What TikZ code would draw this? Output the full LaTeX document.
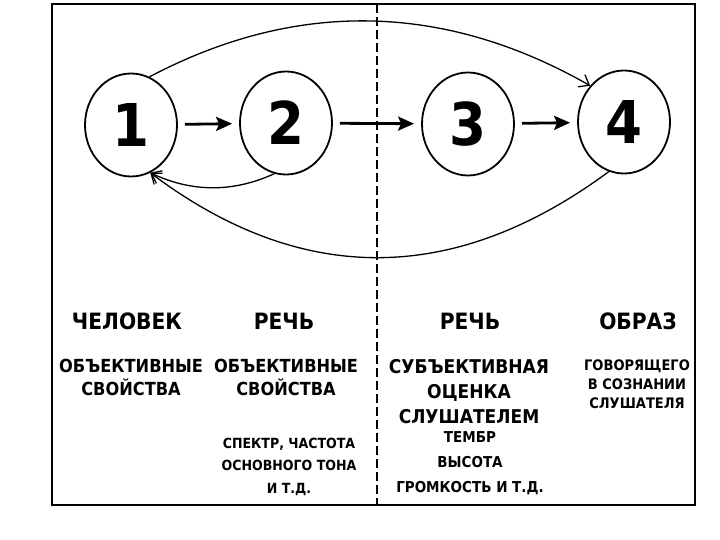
\documentclass[tikz,border=0pt]{standalone}
\usepackage{fontspec}
\setmainfont{DejaVu Sans Condensed}
\usetikzlibrary{arrows.meta,shapes.geometric}

\begin{document}
\begin{tikzpicture}[x=1pt,y=-1pt,
    stage/.style={draw,ellipse,line width=1.8pt,minimum width=92pt,minimum height=103pt,inner sep=0pt,font=\bfseries\fontsize{59}{59}\selectfont},
    flow/.style={-{Stealth[length=16pt,width=14pt,inset=3pt]},line width=2.8pt,shorten <=7pt,shorten >=7pt},
    feedback/.style={-{Straight Barb[length=9pt,width=14pt]},line width=1.3pt},
    title/.style={anchor=base,font=\bfseries\fontsize{22.5}{22.5}\selectfont},
    props/.style={anchor=base,align=center,font=\bfseries\fontsize{18}{23}\selectfont},
    notes/.style={anchor=base,align=center,font=\bfseries\fontsize{14}{22.5}\selectfont}]
        \useasboundingbox (0,0) rectangle (720,540);

        % frame and divider
        \draw[line width=2pt] (52,4) rectangle (695,505);
        \coordinate (dtop) at (377,4);
        \coordinate (dbot) at (377,505);
        \draw[line width=2.2pt,dash pattern=on 9pt off 4pt] (dtop) -- (dbot);

        \node[stage] (c1) at (131,125) {1};
        \node[stage] (c2) at (286,123) {2};
        \node[stage] (c3) at (468,124) {3};
        \node[stage] (c4) at (624,122) {4};

        \draw[flow] (c1) -- (c2);
        \draw[flow] (c2) -- (c3);
        \draw[flow] (c3) -- (c4);

        \draw[feedback] (c1.69) .. controls (297,-1) and (445,3) .. (c4.133);
        \draw[feedback] (c4.253) .. controls (454,286) and (301,286) .. (c1.292);
        \draw[feedback] (c2.257) .. controls (232,193) and (191,192) .. (c1.292);

        % labels, placed by the baseline of their last line
        \node[title] (t1) at (127,329) {ЧЕЛОВЕК};
        \node[title] (t2) at (284,329) {РЕЧЬ};
        \node[title] (t3) at (470,329) {РЕЧЬ};
        \node[title] (t4) at (638,329) {ОБРАЗ};

        \node[props] (p1) at (131,395) {ОБЪЕКТИВНЫЕ\\СВОЙСТВА};
        \node[props] (p2) at (286,395) {ОБЪЕКТИВНЫЕ\\СВОЙСТВА};
        \node[props,font=\bfseries\fontsize{19}{25}\selectfont] (p3) at (469,423) {СУБЪЕКТИВНАЯ\\ОЦЕНКА\\СЛУШАТЕЛЕМ};

        \node[notes] (n2) at (289,493) {СПЕКТР, ЧАСТОТА\\ОСНОВНОГО ТОНА\\И Т.Д.};
        \node[notes,font=\bfseries\fontsize{15}{25}\selectfont] (n3) at (470,492) {ТЕМБР\\ВЫСОТА\\ГРОМКОСТЬ И Т.Д.};
        \node[notes,font=\bfseries\fontsize{14.5}{19}\selectfont] (n4) at (637,408) {ГОВОРЯЩЕГО\\В СОЗНАНИИ\\СЛУШАТЕЛЯ};
\end{tikzpicture}
\end{document}
